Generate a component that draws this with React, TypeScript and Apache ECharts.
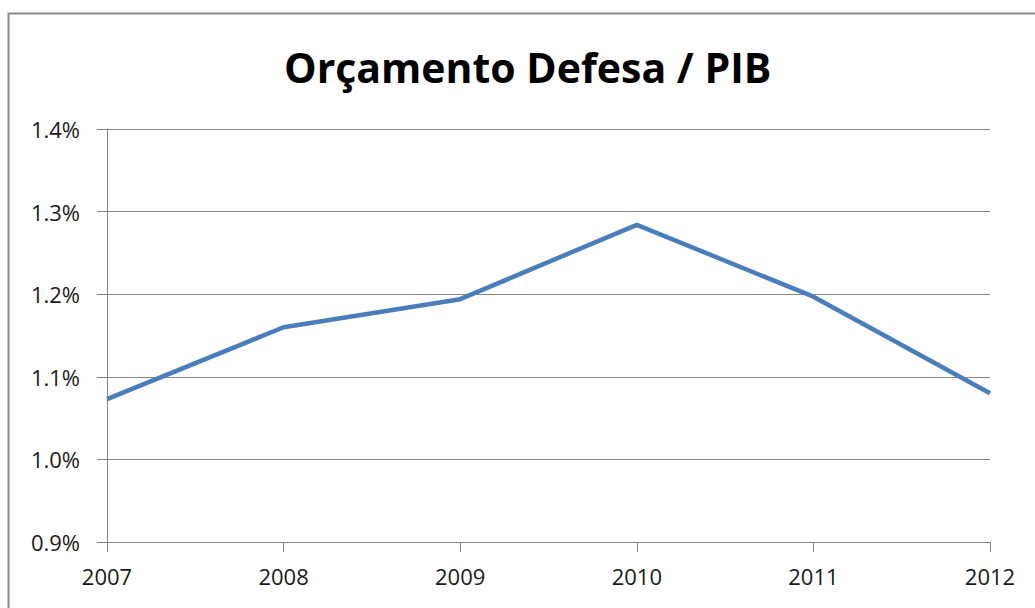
import React, { useEffect, useRef } from "react";
import * as echarts from "echarts";

const title = "Orçamento Defesa / PIB";
const years = ["2007", "2008", "2009", "2010", "2011", "2012"];
const ratio = [1.073, 1.160, 1.194, 1.284, 1.197, 1.080];
const yMin = 0.9;
const yMax = 1.4;
const yStep = 0.1;

export default function App() {
  const ref = useRef<HTMLDivElement>(null);
  useEffect(() => {
    if (!ref.current) return;
    const chart = echarts.init(ref.current, null, { renderer: "svg" });
    const font = "'Open Sans', 'Liberation Sans', sans-serif";
    chart.setOption({
      animation: false,
      backgroundColor: "#ffffff",
      title: {
        text: title,
        left: 279,
        top: 41,
        textStyle: { fontFamily: font, fontWeight: "bold", fontSize: 41, color: "#000" },
      },
      graphic: [
        {
          type: "rect",
          shape: { x: 8.5, y: 13.5, width: 1040, height: 700 },
          style: { fill: "none", stroke: "#8a8a8a", lineWidth: 2 },
          silent: true,
        },
      ],
      grid: { left: 107, right: 45, top: 129, bottom: 66, containLabel: false },
      xAxis: {
        type: "category",
        data: years,
        boundaryGap: false,
        axisLine: { show: true, lineStyle: { color: "#868686", width: 1 } },
        axisTick: { show: true, length: 10, lineStyle: { color: "#868686" } },
        axisLabel: { margin: 23, fontFamily: font, fontSize: 22, color: "#1a1a1a" },
        splitLine: { show: false },
      },
      yAxis: {
        type: "value",
        min: yMin,
        max: yMax,
        interval: yStep,
        axisLine: { show: true, lineStyle: { color: "#868686", width: 1 } },
        axisTick: { show: true, length: 10, lineStyle: { color: "#868686" } },
        axisLabel: {
          margin: 27,
          fontFamily: font,
          fontSize: 22,
          color: "#1a1a1a",
          formatter: (v: number) => v.toFixed(1) + "%",
        },
        splitLine: { show: true, lineStyle: { color: "#868686", width: 1 } },
      },
      series: [
        {
          type: "line",
          data: ratio,
          symbol: "none",
          lineStyle: { color: "#4a7ebb", width: 4.5 },
        },
      ],
    });
    return () => chart.dispose();
  }, []);
  return (
    <div
      ref={ref}
      style={{ position: "absolute", left: 0, top: 0, width: 1035, height: 608 }}
    />
  );
}
